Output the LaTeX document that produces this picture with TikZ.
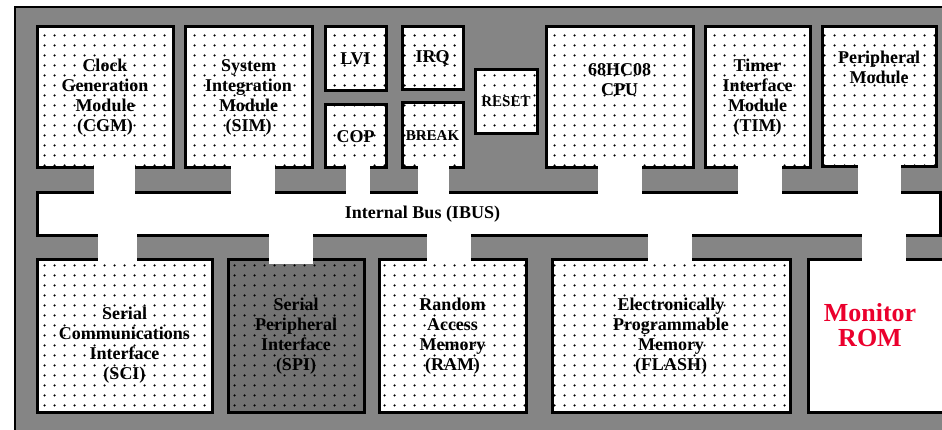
\documentclass[tikz,border=0pt]{standalone}
\usepackage{fontspec}
\setmainfont{Liberation Serif}
\usetikzlibrary{patterns.meta}

\definecolor{romred}{RGB}{235,0,45}

% sparse dot raster of the module boxes
\tikzdeclarepattern{
  name=griddots,
  type=uncolored,
  bottom left={(0pt,0pt)},
  top right={(10pt,10pt)},
  tile size={(10pt,10pt)},
  code={\fill (5pt,5pt) circle (1.35pt);}
}

\tikzset{
  blktext/.style={align=center, font=\bfseries\fontsize{18}{20}\selectfont},
  blk/.style={draw, line width=3pt, preaction={fill=white}, pattern=griddots,
    blktext, inner sep=0pt},
  dkblk/.style={draw, line width=3pt, preaction={fill=black!55}, pattern=griddots,
    blktext, inner sep=0pt},
  stub/.style={white, line width=#1, shorten <=-6pt, shorten >=-4pt},
}

\begin{document}
\begin{tikzpicture}[x=1pt,y=-1pt]
    \useasboundingbox (0,0) rectangle (942,430);
    % chip frame
    \fill[black!48] (15,7) rectangle (950,440);
    \draw[line width=2.5pt] (15,440) -- (15,7) -- (950,7);

    % top row
    \node[blk, minimum width=136pt, minimum height=141pt] (cgm) at (105,97.5) {Clock\\Generation\\Module\\(CGM)};
    \node[blk, minimum width=127pt, minimum height=141pt] (sim) at (248.5,97.5) {System\\Integration\\Module\\(SIM)};
    \node[blk, minimum width=61pt, minimum height=64pt] (lvi) at (355.5,59) {LVI};
    \node[blk, minimum width=61pt, minimum height=63pt] (cop) at (355.5,136.5) {COP};
    \node[blk, minimum width=61pt, minimum height=63pt] (irq) at (432.5,58.5) {IRQ};
    \node[blk, minimum width=61pt, minimum height=65pt, font=\bfseries\fontsize{15}{17}\selectfont] (brk) at (432.5,135.5) {BREAK};
    \node[blk, minimum width=62pt, minimum height=64pt, font=\bfseries\fontsize{15}{17}\selectfont] (rst) at (506,102) {RESET};
    \node[blk, minimum width=147pt, minimum height=141pt,
          label={[blktext, yshift=17.5pt]center:{68HC08\\CPU}}] (cpu) at (619.5,97.5) {};
    \node[blk, minimum width=105pt, minimum height=141pt] (tim) at (757.5,97.5) {Timer\\Interface\\Module\\(TIM)};
    \node[blk, minimum width=114pt, minimum height=140pt,
          label={[blktext, yshift=30pt]center:{Peripheral\\Module}}] (per) at (879,97) {};

    % bus
    \node[draw, line width=3pt, fill=white, minimum width=903pt, minimum height=43pt,
          label={[blktext, xshift=-66pt]center:Internal Bus (IBUS)}] (bus) at (488.5,214.5) {};

    % bottom row
    \node[blk, minimum width=175pt, minimum height=152pt,
          label={[blktext, yshift=-9pt]center:{Serial\\Communications\\Interface\\(SCI)}}] (sci) at (124.5,336) {};
    \node[dkblk, minimum width=136pt, minimum height=152pt] (spi) at (296,336) {Serial\\Peripheral\\Interface\\(SPI)};
    \node[blk, minimum width=147pt, minimum height=152pt] (ram) at (452.5,336) {Random\\Access\\Memory\\(RAM)};
    \node[blk, minimum width=238pt, minimum height=152pt] (fla) at (671,336) {Electronically\\Programmable\\Memory\\(FLASH)};
    \node[draw, line width=3pt, fill=white, minimum width=142pt, minimum height=152pt,
          label={[text=romred, align=center, font=\bfseries\fontsize{26}{25}\selectfont,
                  xshift=-9pt, yshift=11pt]center:{Monitor\\ROM}}] (rom) at (879,336) {};

    % bus taps, top
    \draw[stub=41pt] ([xshift=9.5pt]cgm.south) -- ([xshift=9.5pt]cgm.south |- bus.north);
    \draw[stub=44pt] ([xshift=4.5pt]sim.south) -- ([xshift=4.5pt]sim.south |- bus.north);
    \draw[stub=24pt] ([xshift=2.5pt]cop.south) -- ([xshift=2.5pt]cop.south |- bus.north);
    \draw[stub=31pt] ([xshift=1pt]brk.south) -- ([xshift=1pt]brk.south |- bus.north);
    \draw[stub=44pt] (cpu.south) -- (cpu.south |- bus.north);
    \draw[stub=44pt] ([xshift=2.5pt]tim.south) -- ([xshift=2.5pt]tim.south |- bus.north);
    \draw[stub=43pt] (per.south) -- (per.south |- bus.north);
    % bus taps, bottom
    \draw[stub=39pt] ([xshift=-7pt]sci.north) -- ([xshift=-7pt]sci.north |- bus.south);
    \draw[stub=44pt] ([xshift=-5pt]spi.north) -- ([xshift=-5pt]spi.north |- bus.south);
    \draw[stub=44pt] ([xshift=-3.5pt]ram.north) -- ([xshift=-3.5pt]ram.north |- bus.south);
    \draw[stub=44pt] ([xshift=-1pt]fla.north) -- ([xshift=-1pt]fla.north |- bus.south);
    \draw[stub=44pt] ([xshift=5pt]rom.north) -- ([xshift=5pt]rom.north |- bus.south);
\end{tikzpicture}
\end{document}
